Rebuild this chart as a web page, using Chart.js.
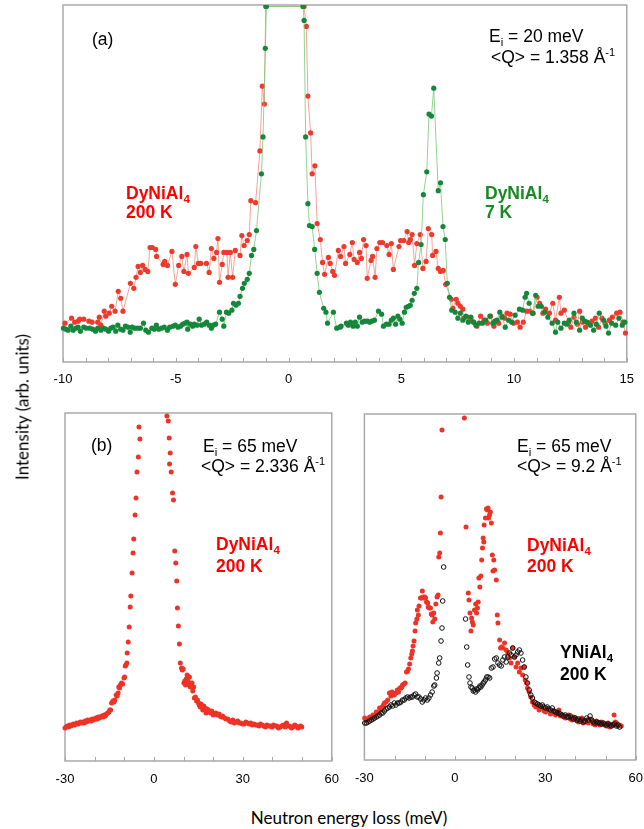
<!DOCTYPE html>
<html>
<head>
<meta charset="utf-8">
<script src="https://cdn.jsdelivr.net/npm/chart.js@4.4.1/dist/chart.umd.min.js"></script>
<style>
  html, body { margin: 0; padding: 0; background: #fff; }
  body { width: 644px; height: 829px; overflow: hidden; position: relative;
         font-family: "Liberation Sans", Arial, sans-serif; }
  canvas { position: absolute; }
  .t { position: absolute; white-space: nowrap; font-size: 17.5px; line-height: 20px; color: #000; }
  .b { font-weight: bold; }
  .red { color: #ff0000; }
  .green { color: #178a22; }
  .sub { position: relative; top: 4px; font-size: 11.5px; }
  .sup { position: relative; top: -7px; font-size: 11px; }
  .ax { position: absolute; white-space: nowrap; font-family: Lato, sans-serif; font-size: 17px; color: #000; }
</style>
</head>
<body>

<canvas id="chartA" width="644" height="400" style="left:0;top:0"></canvas>
<canvas id="chartB1" width="350" height="400" style="left:0;top:400px"></canvas>
<canvas id="chartB2" width="310" height="400" style="left:344px;top:400px"></canvas>

<!-- ---------- panel (a) texts ---------- -->
<div class="t" style="left:92px;top:29px">(a)</div>
<div class="t" style="left:489px;top:26px">E<span class="sub">i</span> = 20 meV</div>
<div class="t" style="left:491px;top:47px">&lt;Q&gt; = 1.358 Å<span class="sup">-1</span></div>
<div class="t b red" style="left:126px;top:183px">DyNiAl<span class="sub">4</span></div>
<div class="t b red" style="left:126px;top:202px">200 K</div>
<div class="t b green" style="left:485px;top:183px">DyNiAl<span class="sub">4</span></div>
<div class="t b green" style="left:485px;top:202px">7 K</div>

<!-- ---------- panel (b) texts ---------- -->
<div class="t" style="left:91px;top:435px">(b)</div>
<div class="t" style="left:203px;top:436px">E<span class="sub">i</span> = 65 meV</div>
<div class="t" style="left:201px;top:456px">&lt;Q&gt; = 2.336 Å<span class="sup">-1</span></div>
<div class="t b red" style="left:216px;top:534px">DyNiAl<span class="sub">4</span></div>
<div class="t b red" style="left:216px;top:556px">200 K</div>

<div class="t" style="left:517px;top:436px">E<span class="sub">i</span> = 65 meV</div>
<div class="t" style="left:517px;top:456px">&lt;Q&gt; = 9.2 Å<span class="sup">-1</span></div>
<div class="t b red" style="left:527px;top:535px">DyNiAl<span class="sub">4</span></div>
<div class="t b red" style="left:527px;top:556px">200 K</div>
<div class="t b" style="left:560px;top:642px">YNiAl<span class="sub">4</span></div>
<div class="t b" style="left:560px;top:664px">200 K</div>

<!-- ---------- axis titles ---------- -->
<div class="ax" style="left:21.5px;top:407px;transform:translate(-50%,-50%) rotate(-90deg)">Intensity (arb. units)</div>
<div class="ax" style="left:349px;top:817px;transform:translate(-50%,-50%)">Neutron energy loss (meV)</div>

<script>
/* ------------------------ données : [énergie (meV), intensité] ------------------------ */

// (a) Ei = 20 meV, DyNiAl4 200 K
const red20 = [[-9.91,39],[-9.62,44],[-9.48,40],[-9.33,41],[-9.26,43],[-9.08,43],[-8.85,41],[-8.71,40],[-8.46,40],[-8.39,45],[-8.32,37],[-8.17,51],[-8.10,46],[-7.95,49],[-7.84,56],[-7.69,51],[-7.55,71],[-7.44,64],[-7.34,51],[-7.01,79],[-6.86,74],[-6.76,85],[-6.67,96],[-6.57,90],[-6.47,97],[-6.36,93],[-6.24,91],[-6.14,115],[-6.04,115],[-5.89,113],[-5.85,106],[-5.56,98],[-5.49,101],[-5.37,97],[-5.17,111],[-5.02,78],[-4.87,97],[-4.73,106],[-4.64,91],[-4.50,108],[-4.44,89],[-4.18,95],[-4.11,116],[-4.00,99],[-3.89,99],[-3.64,99],[-3.52,90],[-3.42,114],[-3.31,104],[-3.19,110],[-3.13,124],[-3.06,80],[-2.94,98],[-2.87,110],[-2.73,110],[-2.68,85],[-2.58,110],[-2.48,85],[-2.36,112],[-2.15,107],[-2.07,127],[-1.97,117],[-1.83,122],[-1.74,128],[-1.67,162],[-1.46,160],[-1.27,212],[-1.16,277],[-1.07,259],[-1.01,357],[0.69,357],[0.79,337],[0.86,267],[0.98,230],[1.05,189],[1.17,197],[1.27,139],[1.41,123],[1.51,100],[1.60,88],[1.77,105],[1.85,99],[1.96,91],[2.04,87],[2.21,112],[2.31,106],[2.46,116],[2.53,99],[2.72,108],[2.83,120],[2.91,103],[3.05,100],[3.15,110],[3.23,104],[3.33,123],[3.44,117],[3.49,84],[3.66,102],[3.73,106],[3.84,85],[3.92,114],[4.05,120],[4.17,120],[4.36,117],[4.46,108],[4.56,119],[4.65,93],[4.90,116],[4.97,122],[5.11,122],[5.26,131],[5.33,120],[5.40,123],[5.48,128],[5.59,97],[5.69,119],[5.84,128],[5.96,94],[6.10,101],[6.20,134],[6.35,128],[6.39,107],[6.54,111],[6.64,94],[6.74,91],[6.86,92],[6.97,78],[7.22,63],[7.29,54],[7.44,63],[7.51,59],[7.62,56],[7.73,53],[7.77,44],[7.92,45],[8.09,42],[8.22,40],[8.35,36],[8.52,46],[8.67,42],[8.82,39],[8.96,46],[9.11,36],[9.22,41],[9.32,39],[9.47,46],[9.58,44],[9.69,49],[9.83,48],[9.98,39],[10.15,40],[10.27,35],[10.41,40],[10.56,51],[10.70,51],[10.85,49],[11.02,65],[11.14,59],[11.28,49],[11.40,53],[11.57,49],[11.72,59],[11.84,42],[12.01,65],[12.08,49],[12.23,52],[12.42,40],[12.52,35],[12.66,45],[12.81,38],[12.91,51],[13.03,40],[13.17,35],[13.32,39],[13.46,41],[13.61,44],[13.75,35],[13.90,44],[14.04,39],[14.23,42],[14.36,45],[14.55,49],[14.70,50],[14.84,40],[14.94,29]];

// (a) Ei = 20 meV, DyNiAl4 7 K
const green20 = [[-9.98,34],[-9.87,33],[-9.77,32],[-9.65,36],[-9.55,32],[-9.43,34],[-9.33,35],[-9.23,31],[-9.08,35],[-8.97,34],[-8.82,34],[-8.68,33],[-8.56,31],[-8.46,34],[-8.32,32],[-8.21,34],[-8.10,33],[-7.98,31],[-7.88,34],[-7.78,35],[-7.66,31],[-7.57,37],[-7.44,33],[-7.34,32],[-7.23,36],[-7.12,35],[-7.02,30],[-6.94,35],[-6.82,34],[-6.70,34],[-6.57,34],[-6.43,39],[-6.33,32],[-6.21,30],[-6.06,34],[-5.95,33],[-5.86,37],[-5.75,33],[-5.63,34],[-5.51,35],[-5.37,32],[-5.27,35],[-5.12,36],[-5.02,37],[-4.90,35],[-4.79,36],[-4.69,38],[-4.58,39],[-4.50,40],[-4.47,33],[-4.35,38],[-4.25,36],[-4.18,38],[-4.06,37],[-3.96,43],[-3.86,37],[-3.74,38],[-3.63,40],[-3.52,37],[-3.42,34],[-3.34,37],[-3.23,38],[-3.06,50],[-2.94,43],[-2.87,36],[-2.75,50],[-2.65,49],[-2.51,52],[-2.44,59],[-2.33,57],[-2.22,59],[-2.15,66],[-2.04,74],[-1.96,79],[-1.83,83],[-1.74,89],[-1.64,107],[-1.54,113],[-1.42,132],[-1.20,189],[-1.13,226],[-1.03,315],[-0.98,357],[0.64,357],[0.69,343],[0.76,226],[0.86,159],[0.93,137],[1.05,136],[1.16,113],[1.27,89],[1.37,70],[1.56,54],[1.66,50],[1.73,39],[1.99,50],[2.14,34],[2.28,35],[2.33,36],[2.57,39],[2.65,37],[2.75,40],[2.86,36],[2.96,40],[3.05,36],[3.15,45],[3.27,40],[3.37,41],[3.49,41],[3.60,40],[3.70,41],[3.81,42],[3.99,51],[4.13,48],[4.21,36],[4.34,38],[4.46,38],[4.56,42],[4.65,44],[4.75,38],[4.85,46],[4.94,43],[5.04,39],[5.14,50],[5.22,55],[5.32,56],[5.40,57],[5.48,62],[5.58,69],[5.69,74],[5.77,100],[5.88,118],[5.98,168],[6.13,191],[6.23,249],[6.34,247],[6.44,275],[6.64,172],[6.74,180],[6.85,136],[6.95,123],[7.04,79],[7.14,65],[7.24,52],[7.39,50],[7.51,44],[7.62,49],[7.73,42],[7.87,46],[7.97,40],[8.09,45],[8.20,40],[8.31,37],[8.45,39],[8.60,39],[8.74,42],[8.93,46],[9.06,39],[9.15,41],[9.25,42],[9.37,50],[9.47,45],[9.61,35],[9.76,42],[9.90,40],[10.05,47],[10.24,53],[10.38,52],[10.49,65],[10.56,69],[10.67,59],[10.82,49],[10.96,67],[11.07,56],[11.21,56],[11.36,50],[11.50,45],[11.69,39],[11.84,30],[11.94,40],[12.08,34],[12.23,39],[12.34,38],[12.45,42],[12.66,49],[12.76,40],[12.91,32],[13.03,44],[13.14,41],[13.24,40],[13.39,37],[13.53,32],[13.65,38],[13.78,49],[13.97,42],[14.08,36],[14.19,29],[14.33,39],[14.51,37],[14.65,44],[14.80,37],[14.91,40]];

// (b) Ei = 65 meV, <Q> = 2.336, DyNiAl4 200 K
const red65low = [[-30.0,33],[-29.6,34],[-29.2,35],[-28.8,34],[-28.4,36],[-28.0,35],[-27.6,36],[-27.2,37],[-26.8,36],[-26.4,37],[-26.0,38],[-25.6,37],[-25.2,38],[-24.8,39],[-24.4,38],[-24.0,39],[-23.6,38],[-23.2,40],[-22.8,39],[-22.4,41],[-22.0,40],[-21.6,41],[-21.2,40],[-20.8,42],[-20.4,41],[-20.0,42],[-19.6,43],[-19.2,42],[-18.8,44],[-18.4,43],[-18.0,44],[-17.6,45],[-17.2,44],[-16.8,46],[-16.4,45],[-16.0,47],[-15.6,48],[-15.2,49],[-14.9,51],[-14.6,51],[-14.3,58],[-13.85,60],[-13.5,59],[-13.2,61],[-12.75,66],[-12.4,65],[-12.1,68],[-11.87,74],[-11.6,73],[-11.32,76],[-10.9,78],[-10.55,77],[-10.1,83],[-9.89,84],[-9.67,95],[-9.45,96],[-9.12,98],[-9.01,108],[-8.67,119],[-8.34,134],[-8.0,154],[-7.8,165],[-7.37,188],[-7.03,208],[-6.81,222],[-6.37,246],[-6.04,263],[-5.71,289],[-5.27,304],[-5.05,334],[-4.72,322],[4.39,345],[4.83,340],[5.16,323],[5.27,297],[5.49,308],[5.82,289],[6.27,268],[6.6,261],[7.03,210],[7.37,198],[7.7,180],[7.92,153],[8.25,135],[8.6,117],[8.9,98],[9.3,93],[9.56,91],[9.89,92],[10.11,78],[10.4,80],[10.66,76],[10.9,82],[11.21,86],[11.5,80],[11.76,76],[11.98,84],[12.3,74],[12.6,76],[12.86,78],[13.1,70],[13.41,74],[13.63,63],[14.0,64],[14.4,60],[14.7,61],[15.05,58],[15.3,56],[15.6,54],[15.9,57],[16.2,55],[16.48,51],[16.8,55],[17.25,53],[17.58,48],[17.9,52],[18.35,51],[18.7,49],[19.12,48],[19.5,50],[19.99,46],[20.4,47],[20.87,48],[21.4,46],[21.97,47],[22.3,45],[22.74,44],[23.2,45],[23.84,43],[24.3,42],[24.94,42],[25.5,40],[26.04,39],[26.6,41],[27.14,38],[27.7,39],[28.24,40],[28.8,38],[29.34,38],[29.9,37],[30.44,37],[31.0,39],[31.54,38],[32.1,37],[32.64,38],[33.2,36],[33.74,37],[34.3,36],[34.84,36],[35.4,35],[35.93,37],[36.5,36],[37.03,35],[37.6,34],[38.13,36],[38.7,35],[39.23,35],[39.8,34],[40.33,36],[40.9,35],[41.43,35],[42.0,33],[42.53,34],[43.1,35],[43.63,36],[44.2,34],[44.73,38],[45.3,35],[45.82,35],[46.4,33],[46.92,34],[47.5,36],[48.02,35],[48.6,33],[49.12,34],[49.5,35],[49.9,34]];

// (b) Ei = 65 meV, <Q> = 9.2, DyNiAl4 200 K
const red65high = [[-29.9,42],[-29.35,40],[-28.8,41],[-28.26,43],[-27.7,42],[-27.17,45],[-26.6,44],[-26.07,48],[-25.5,47],[-24.98,52],[-24.5,50],[-24.11,53],[-23.7,55],[-23.35,57],[-22.8,58],[-22.26,60],[-21.71,67],[-21.2,64],[-20.84,68],[-20.5,66],[-20.08,65],[-19.53,67],[-19.1,70],[-18.66,68],[-18.2,72],[-17.89,72],[-17.6,73],[-17.35,75],[-16.9,76],[-16.48,77],[-16.04,88],[-15.7,89],[-15.38,91],[-15.0,96],[-14.62,102],[-14.3,106],[-14.08,109],[-13.86,114],[-13.53,119],[-13.2,129],[-12.99,137],[-12.6,141],[-12.44,150],[-12.11,145],[-11.89,154],[-11.4,162],[-11.02,162],[-10.8,169],[-10.5,163],[-10.26,162],[-9.95,163],[-9.71,162],[-9.4,158],[-9.0,157],[-8.84,153],[-8.5,152],[-8.08,152],[-7.8,146],[-7.53,145],[-7.31,138],[-7.0,147],[-6.66,141],[-6.3,156],[-5.89,163],[-5.57,165],[-5.35,203],[-5.02,207],[-4.8,227],[-4.58,263],[-4.26,330],[3.16,342],[3.7,233],[4.47,167],[4.69,160],[5.02,147],[5.34,129],[5.56,142],[5.8,138],[6.11,135],[6.5,150],[6.9,156],[7.2,147],[7.5,152],[7.74,158],[7.96,182],[8.29,173],[8.62,184],[8.9,200],[9.16,212],[9.38,222],[9.6,218],[9.71,235],[10.14,242],[10.47,251],[10.8,250],[11.01,252],[11.23,242],[11.5,245],[11.78,248],[12.1,237],[12.43,205],[12.65,189],[12.9,200],[13.2,190],[13.74,180],[14.07,145],[14.29,137],[14.84,120],[15.16,112],[15.5,113],[15.92,112],[16.47,117],[17.02,110],[17.56,107],[18.11,102],[18.65,97],[19.2,112],[19.74,103],[20.29,93],[20.83,97],[21.38,88],[21.92,92],[22.47,85],[23.01,93],[23.34,80],[23.78,77],[24.1,72],[24.65,68],[25.2,63],[25.74,58],[26.3,55],[26.83,53],[27.4,54],[27.92,50],[28.5,52],[29.02,52],[29.6,49],[30.1,48],[30.65,51],[31.2,50],[31.7,46],[32.3,47],[32.8,49],[33.4,45],[33.9,47],[34.5,50],[35.0,44],[35.6,45],[36.1,43],[36.65,42],[37.2,44],[37.74,45],[38.3,41],[38.83,40],[39.4,43],[39.92,42],[40.5,39],[41.0,38],[41.6,41],[42.1,42],[42.6,37],[43.2,38],[43.7,40],[44.3,37],[44.8,41],[45.4,40],[45.9,36],[46.5,35],[47.0,39],[47.5,37],[48.1,35],[48.6,38],[49.2,36],[49.7,35],[50.2,34],[50.8,37],[51.3,33],[51.9,35],[52.4,36],[52.8,45],[53.2,38],[53.6,37],[54.1,34],[54.6,35],[55.2,34]];

// (b) Ei = 65 meV, <Q> = 9.2, YNiAl4 200 K
const black65high = [[-29.89,37],[-29.35,37],[-28.8,38],[-28.26,39],[-27.71,40],[-27.17,41],[-26.62,42],[-26.07,43],[-25.53,44],[-24.98,45],[-24.44,47],[-23.89,47],[-23.35,49],[-22.8,51],[-22.26,52],[-21.71,53],[-21.17,55],[-20.62,54],[-20.08,57],[-19.53,55],[-18.98,57],[-18.44,57],[-17.89,58],[-17.35,60],[-16.8,60],[-16.26,62],[-15.71,63],[-15.17,62],[-14.62,63],[-14.08,63],[-13.53,65],[-12.99,66],[-12.44,63],[-11.89,63],[-11.35,61],[-10.8,58],[-10.26,60],[-9.71,62],[-9.17,60],[-8.62,62],[-8.08,65],[-7.53,68],[-6.98,74],[-6.66,75],[-6.11,82],[-5.89,87],[-5.35,97],[-5.02,102],[-4.58,119],[-4.26,132],[-4.04,159],[-3.71,193],[3.55,141],[3.93,113],[4.25,95],[4.69,83],[5.02,77],[5.34,73],[5.78,72],[6.1,69],[6.43,70],[6.87,68],[7.2,71],[7.52,70],[7.96,72],[8.3,74],[8.62,73],[9.05,75],[9.4,77],[9.71,78],[10.14,80],[10.58,83],[11.02,83],[11.56,82],[12.1,92],[12.65,93],[13.2,101],[13.74,102],[14.29,97],[14.83,95],[15.38,94],[15.92,100],[16.47,103],[17.02,98],[17.56,103],[18.11,107],[18.65,105],[19.2,112],[19.74,103],[20.29,105],[20.83,108],[21.38,110],[21.92,107],[22.47,100],[23.01,93],[23.56,83],[24.1,77],[24.65,70],[25.2,65],[25.74,62],[26.29,58],[26.83,57],[27.38,56],[27.92,55],[28.47,54],[29.02,55],[29.56,53],[30.1,52],[30.65,53],[31.2,51],[31.74,50],[32.29,52],[32.83,49],[33.38,48],[33.93,47],[34.47,47],[35.0,46],[35.56,45],[36.1,44],[36.65,45],[37.2,43],[37.74,43],[38.3,44],[38.83,42],[39.38,41],[39.92,42],[40.47,40],[41.0,41],[41.56,39],[42.1,40],[42.65,38],[43.2,39],[43.74,42],[44.3,40],[44.83,44],[45.4,40],[45.92,38],[46.47,37],[47.0,38],[47.56,37],[48.1,37],[48.65,36],[49.2,37],[49.74,36],[50.3,35],[50.83,36],[51.4,35],[51.9,34],[52.5,35],[53.0,36],[53.6,34],[54.1,35],[54.65,33]];

// axes
const xRangeA = [-10, 15];
const xRangeB = [-30, 60];

/* ------------------------ cadre + petits traits vers l'intérieur ------------------------ */

const boxPlugin = {
  id: 'box',
  beforeDatasetsDraw(chart) {
    const {ctx, chartArea: a, scales: {x}} = chart;
    ctx.save();
    ctx.strokeStyle = '#a9a9a9';
    ctx.lineWidth = 1.5;
    ctx.strokeRect(a.left, a.top, a.right - a.left, a.bottom - a.top);
    ctx.beginPath();
    x.ticks.forEach(t => {
      const px = Math.round(x.getPixelForValue(t.value)) + 0.5;
      ctx.moveTo(px, a.bottom);
      ctx.lineTo(px, a.bottom - 4);
    });
    ctx.lineWidth = 1;
    ctx.stroke();
    ctx.restore();
  }
};

const toXY = arr => arr.map(p => ({x: p[0], y: p[1]}));

function makeChart(id, o) {
  return new Chart(document.getElementById(id), {
    type: 'scatter',
    data: { datasets: o.datasets },
    options: {
      responsive: false,
      animation: false,
      devicePixelRatio: 1,
      events: [],
      layout: { padding: o.pad },
      plugins: { legend: { display: false }, tooltip: { enabled: false } },
      scales: {
        x: {
          type: 'linear', min: o.range[0], max: o.range[1],
          grid: { display: false, drawTicks: false },
          border: { display: false },
          ticks: {
            stepSize: o.step, autoSkip: false, maxRotation: 0, padding: o.tickPad,
            color: '#000', font: { family: 'Liberation Sans', size: 13 },
            callback: v => (v % o.every === 0 ? String(v) : '')
          },
          afterFit: s => { s.height = o.axisH; }
        },
        y: { display: false, min: 0, max: o.ymax }
      }
    },
    plugins: [boxPlugin]
  });
}

/* ------------------------ graphique (a) ------------------------ */

makeChart('chartA', {
  range: xRangeA, step: 1, every: 5, ymax: 358.5,
  pad: { left: 63, right: 7, top: 5, bottom: 0 }, axisH: 38, tickPad: 10,
  datasets: [
    {
      data: toXY(green20), showLine: true, order: 0,
      borderColor: 'rgba(120,200,120,0.8)', borderWidth: 1,
      pointRadius: 2.6, pointBackgroundColor: '#14873a', pointBorderWidth: 0,
      clip: { left: 5, top: 0, right: 5, bottom: 5 }
    },
    {
      data: toXY(red20), showLine: true, order: 1,
      borderColor: 'rgba(245,140,125,0.8)', borderWidth: 1,
      pointRadius: 2.6, pointBackgroundColor: '#ee3a2c', pointBorderWidth: 0,
      clip: { left: 5, top: 0, right: 5, bottom: 5 }
    }
  ]
});

/* ------------------------ graphique (b) gauche ------------------------ */

makeChart('chartB1', {
  range: xRangeB, step: 10, every: 30, ymax: 348,
  pad: { left: 65, right: 12, top: 13, bottom: 0 }, axisH: 39, tickPad: 11,
  datasets: [
    {
      data: toXY(red65low), pointRadius: 2.5,
      pointBackgroundColor: '#ee3326', pointBorderWidth: 0, clip: false
    }
  ]
});

/* ------------------------ graphique (b) droite ------------------------ */

makeChart('chartB2', {
  range: xRangeB, step: 10, every: 30, ymax: 346,
  pad: { left: 19, right: 16, top: 14, bottom: 0 }, axisH: 40, tickPad: 11,
  datasets: [
    {
      data: toXY(black65high), order: 0, pointRadius: 2.3,
      pointBackgroundColor: 'rgba(255,255,255,0)', pointBorderColor: '#111', pointBorderWidth: 1, clip: false
    },
    {
      data: toXY(red65high), order: 1, pointRadius: 2.5,
      pointBackgroundColor: '#ee3326', pointBorderWidth: 0, clip: false
    }
  ]
});
</script>
</body>
</html>
